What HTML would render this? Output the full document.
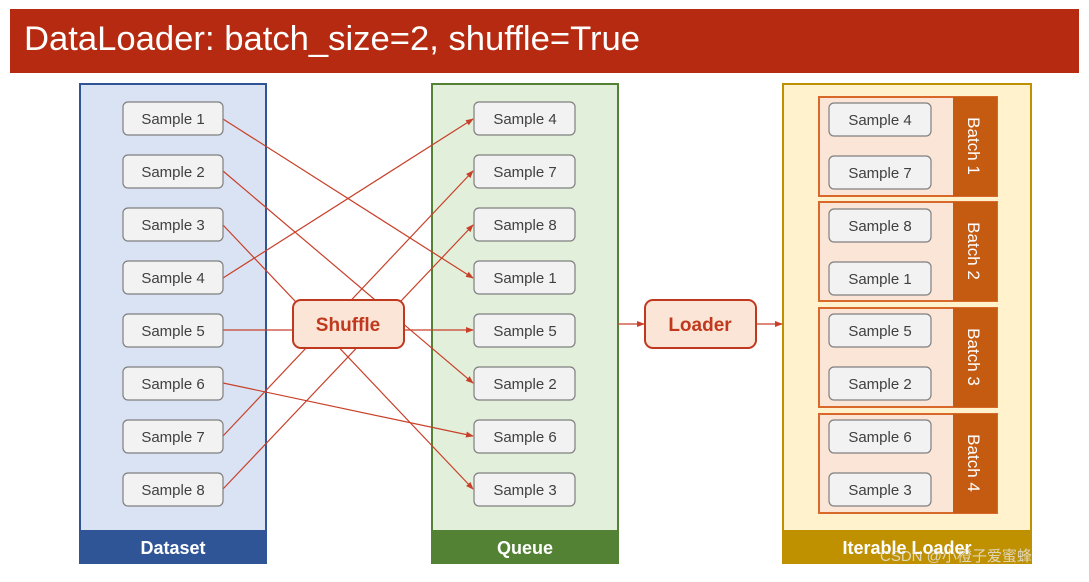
<!DOCTYPE html>
<html><head><meta charset="utf-8"><style>
body{margin:0;width:1089px;height:577px;background:#fff;overflow:hidden;font-family:"Liberation Sans",sans-serif}
</style></head><body>
<svg width="1089" height="577" xmlns="http://www.w3.org/2000/svg" font-family="Liberation Sans, sans-serif">
<defs><marker id="a" markerWidth="8" markerHeight="8" refX="7" refY="4" orient="auto" markerUnits="userSpaceOnUse"><path d="M0,1 L8,4 L0,7 z" fill="#c8402a"/></marker></defs>
<rect x="10" y="9" width="1069" height="64" fill="#b52a10"/>
<text x="24" y="50" font-size="34" fill="#fff" textLength="616" lengthAdjust="spacingAndGlyphs">DataLoader: batch_size=2, shuffle=True</text>
<rect x="80" y="84" width="186" height="479" fill="#dae3f3" stroke="#2f5597" stroke-width="2"/>
<rect x="80" y="530" width="186" height="33" fill="#2f5597"/>
<text x="173" y="554" font-size="18" font-weight="bold" fill="#fff" text-anchor="middle">Dataset</text>
<rect x="432" y="84" width="186" height="479" fill="#e2efda" stroke="#548235" stroke-width="2"/>
<rect x="432" y="530" width="186" height="33" fill="#548235"/>
<text x="525" y="554" font-size="18" font-weight="bold" fill="#fff" text-anchor="middle">Queue</text>
<rect x="783" y="84" width="248" height="479" fill="#fff2cc" stroke="#bf9000" stroke-width="2"/>
<rect x="783" y="530" width="248" height="33" fill="#bf9000"/>
<text x="907" y="554" font-size="18" font-weight="bold" fill="#fff" text-anchor="middle">Iterable Loader</text>
<g stroke="#c8402a" stroke-width="1.2" fill="none">
<line x1="223" y1="119" x2="473" y2="278" marker-end="url(#a)"/>
<line x1="223" y1="171" x2="473" y2="383" marker-end="url(#a)"/>
<line x1="223" y1="225" x2="473" y2="489" marker-end="url(#a)"/>
<line x1="223" y1="278" x2="473" y2="119" marker-end="url(#a)"/>
<line x1="223" y1="330" x2="473" y2="330" marker-end="url(#a)"/>
<line x1="223" y1="383" x2="473" y2="436" marker-end="url(#a)"/>
<line x1="223" y1="436" x2="473" y2="171" marker-end="url(#a)"/>
<line x1="223" y1="489" x2="473" y2="225" marker-end="url(#a)"/>
<line x1="618" y1="324" x2="644" y2="324" marker-end="url(#a)"/>
<line x1="756" y1="324" x2="782" y2="324" marker-end="url(#a)"/>
</g>
<rect x="293" y="300" width="111" height="48" rx="8" fill="#fbe5d6" stroke="#c0391f" stroke-width="2"/>
<text x="348" y="331" font-size="19" font-weight="bold" fill="#c0391f" text-anchor="middle">Shuffle</text>
<rect x="645" y="300" width="111" height="48" rx="8" fill="#fbe5d6" stroke="#c0391f" stroke-width="2"/>
<text x="700" y="331" font-size="19" font-weight="bold" fill="#c0391f" text-anchor="middle">Loader</text>
<g font-size="15" fill="#404040" text-anchor="middle">
<g stroke="#7f7f7f" stroke-width="1.2" fill="#f2f2f2">
<rect x="123" y="102" width="100" height="33" rx="5"/><rect x="123" y="155" width="100" height="33" rx="5"/>
<rect x="123" y="208" width="100" height="33" rx="5"/><rect x="123" y="261" width="100" height="33" rx="5"/>
<rect x="123" y="314" width="100" height="33" rx="5"/><rect x="123" y="367" width="100" height="33" rx="5"/>
<rect x="123" y="420" width="100" height="33" rx="5"/><rect x="123" y="473" width="100" height="33" rx="5"/>
<rect x="474" y="102" width="101" height="33" rx="5"/><rect x="474" y="155" width="101" height="33" rx="5"/>
<rect x="474" y="208" width="101" height="33" rx="5"/><rect x="474" y="261" width="101" height="33" rx="5"/>
<rect x="474" y="314" width="101" height="33" rx="5"/><rect x="474" y="367" width="101" height="33" rx="5"/>
<rect x="474" y="420" width="101" height="33" rx="5"/><rect x="474" y="473" width="101" height="33" rx="5"/>
</g>
<text x="173" y="124">Sample 1</text><text x="173" y="177">Sample 2</text><text x="173" y="230">Sample 3</text><text x="173" y="283">Sample 4</text>
<text x="173" y="336">Sample 5</text><text x="173" y="389">Sample 6</text><text x="173" y="442">Sample 7</text><text x="173" y="495">Sample 8</text>
<text x="525" y="124">Sample 4</text><text x="525" y="177">Sample 7</text><text x="525" y="230">Sample 8</text><text x="525" y="283">Sample 1</text>
<text x="525" y="336">Sample 5</text><text x="525" y="389">Sample 2</text><text x="525" y="442">Sample 6</text><text x="525" y="495">Sample 3</text>
</g>
<g font-size="15" text-anchor="middle">
<rect x="819" y="97" width="178" height="99" fill="#fbe5d6" stroke="#d9692a" stroke-width="2"/><rect x="953" y="97" width="44" height="99" fill="#c55a11"/>
<text transform="translate(968,146) rotate(90)" fill="#fff" font-size="17">Batch 1</text>
<rect x="819" y="202" width="178" height="99" fill="#fbe5d6" stroke="#d9692a" stroke-width="2"/><rect x="953" y="202" width="44" height="99" fill="#c55a11"/>
<text transform="translate(968,251) rotate(90)" fill="#fff" font-size="17">Batch 2</text>
<rect x="819" y="308" width="178" height="99" fill="#fbe5d6" stroke="#d9692a" stroke-width="2"/><rect x="953" y="308" width="44" height="99" fill="#c55a11"/>
<text transform="translate(968,357) rotate(90)" fill="#fff" font-size="17">Batch 3</text>
<rect x="819" y="414" width="178" height="99" fill="#fbe5d6" stroke="#d9692a" stroke-width="2"/><rect x="953" y="414" width="44" height="99" fill="#c55a11"/>
<text transform="translate(968,463) rotate(90)" fill="#fff" font-size="17">Batch 4</text>
<g stroke="#7f7f7f" stroke-width="1.2" fill="#f2f2f2">
<rect x="829" y="103" width="102" height="33" rx="5"/><rect x="829" y="156" width="102" height="33" rx="5"/>
<rect x="829" y="209" width="102" height="33" rx="5"/><rect x="829" y="262" width="102" height="33" rx="5"/>
<rect x="829" y="314" width="102" height="33" rx="5"/><rect x="829" y="367" width="102" height="33" rx="5"/>
<rect x="829" y="420" width="102" height="33" rx="5"/><rect x="829" y="473" width="102" height="33" rx="5"/>
</g>
<g fill="#404040">
<text x="880" y="125">Sample 4</text><text x="880" y="178">Sample 7</text><text x="880" y="231">Sample 8</text><text x="880" y="284">Sample 1</text>
<text x="880" y="336">Sample 5</text><text x="880" y="389">Sample 2</text><text x="880" y="442">Sample 6</text><text x="880" y="495">Sample 3</text>
</g>
</g>
<text x="880" y="561" font-size="15" fill="#e8e8e8" opacity="0.8" font-family="Liberation Sans, Noto Sans CJK SC, sans-serif">CSDN @小橙子爱蜜蜂</text>
</svg>
</body></html>
